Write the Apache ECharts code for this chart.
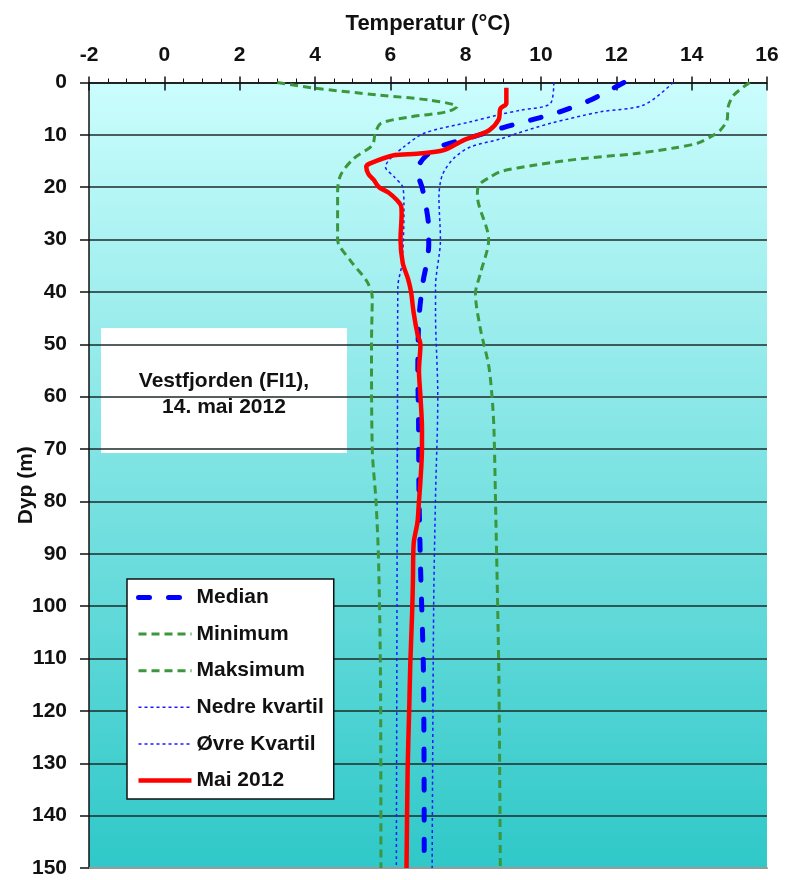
<!DOCTYPE html>
<html>
<head>
<meta charset="utf-8">
<script src="https://cdn.jsdelivr.net/npm/echarts@6/dist/echarts.min.js"></script>
<style>
  html, body { margin: 0; padding: 0; background: #ffffff; }
  #chart { width: 787px; height: 880px; }
</style>
</head>
<body>
<div id="chart"></div>
<script>
// Temperature profiles, Vestfjorden (Fl1): depth (m) and temperature (°C)
const xTicks = [-2, 0, 2, 4, 6, 8, 10, 12, 14, 16];
const yTicks = [0, 10, 20, 30, 40, 50, 60, 70, 80, 90, 100, 110, 120, 130, 140, 150];

const medianDepth = [0, 3.4, 5.6, 7.2, 8.6, 10.7, 12.2, 14, 15.5, 17.2, 20, 22.5, 28, 31, 35, 38, 45, 55, 65, 78, 92, 113, 150];
const medianTemp  = [12.2, 11.3, 10.5, 9.72, 9.0, 8.04, 7.33, 6.95, 6.78, 6.73, 6.84, 6.92, 7.02, 7.02, 6.95, 6.87, 6.76, 6.73, 6.75, 6.76, 6.8, 6.88, 6.9];

const minDepth = [0, 1.1, 2.4, 3.4, 4.6, 5.6, 6.6, 7.8, 9.7, 12, 14.5, 17.7, 21, 30, 34, 38, 41, 50, 70, 80, 92, 115, 150];
const minTemp  = [3.0, 4.0, 5.7, 7.07, 7.77, 7.5, 6.5, 5.75, 5.6, 5.52, 5.03, 4.68, 4.6, 4.6, 4.94, 5.38, 5.52, 5.5, 5.52, 5.62, 5.69, 5.74, 5.75];

const maxDepth = [0, 2.4, 4.6, 7.2, 9.1, 10, 11.6, 12.5, 13.6, 14.5, 15.8, 17, 18, 19.6, 21.5, 30, 36.5, 40.3, 47, 54, 60, 66, 79, 113, 150];
const maxTemp  = [15.54, 15.12, 14.97, 14.94, 14.76, 14.59, 14.15, 13.53, 12.47, 11.14, 9.81, 8.93, 8.66, 8.35, 8.31, 8.61, 8.39, 8.26, 8.39, 8.61, 8.7, 8.75, 8.79, 8.88, 8.92];

const lowerQDepth = [0, 4, 5.3, 6.1, 7.5, 9.7, 12.3, 14.5, 16.1, 18, 20, 23, 25, 34.5, 39, 60, 150];
const lowerQTemp  = [10.34, 10.25, 9.45, 8.92, 8.13, 6.89, 6.36, 6.0, 5.87, 6.1, 6.33, 6.36, 6.36, 6.31, 6.2, 6.19, 6.16];

const upperQDepth = [0, 4.3, 5.6, 7.8, 9.7, 10.8, 12.3, 14.5, 17.7, 22, 30, 39, 44, 60, 79, 100, 150];
const upperQTemp  = [13.51, 12.73, 11.58, 10.25, 9.37, 8.92, 8.13, 7.68, 7.38, 7.29, 7.33, 7.2, 7.2, 7.26, 7.2, 7.15, 7.11];

const may2012Depth = [1, 4, 5, 7, 9.1, 10.1, 11, 12.9, 13.6, 13.9, 15.5, 16.1, 17.5, 18.6, 20, 21, 22.5, 23.7, 25, 30, 34.5, 37.5, 40, 44, 48, 50, 55, 60, 66, 70, 76, 80, 84, 88, 95, 101, 111, 120, 131, 150];
const may2012Temp  = [9.08, 9.08, 8.92, 8.88, 8.63, 8.31, 7.95, 7.42, 6.71, 6.09, 5.45, 5.36, 5.42, 5.56, 5.7, 5.95, 6.18, 6.29, 6.3, 6.27, 6.33, 6.47, 6.55, 6.62, 6.72, 6.8, 6.76, 6.8, 6.84, 6.84, 6.8, 6.76, 6.72, 6.62, 6.6, 6.58, 6.53, 6.5, 6.46, 6.43];

const seriesNames = ['Median', 'Minimum', 'Maksimum', 'Nedre kvartil', 'Øvre Kvartil', 'Mai 2012'];
const stationText = ['Vestfjorden (FI1),', '14. mai 2012'];

function pairs(temps, depths) {
  return temps.map((t, i) => [t, depths[i]]);
}

const FONT = "'Liberation Sans', Arial, Helvetica, sans-serif";
const chart = echarts.init(document.getElementById('chart'), null, { renderer: 'canvas' });

const plotLeft = 89, plotRight = 767, plotTop = 82.5, plotBottom = 868;

const lineSeries = (name, data, style) => ({
  name: name,
  type: 'line',
  xAxisIndex: 0,
  yAxisIndex: 0,
  data: data,
  symbol: 'none',
  smooth: 0.3,
  lineStyle: style,
  itemStyle: { color: style.color },
  animation: false
});

chart.setOption({
  animation: false,
  backgroundColor: '#ffffff',
  textStyle: { fontFamily: FONT },
  grid: {
    left: plotLeft,
    right: 787 - plotRight,
    top: plotTop,
    bottom: 880 - plotBottom,
    containLabel: false,
    outerBoundsMode: 'none',
    show: true,
    borderWidth: 0,
    backgroundColor: {
      type: 'linear', x: 0, y: 0, x2: 0, y2: 1,
      colorStops: [
        { offset: 0, color: '#cbfdfd' },
        { offset: 1, color: '#2fc8c8' }
      ]
    }
  },
  xAxis: [
    {
      type: 'value',
      position: 'top',
      min: xTicks[0],
      max: xTicks[xTicks.length - 1],
      interval: 2,
      name: 'Temperatur (°C)',
      nameLocation: 'middle',
      nameGap: 48,
      nameMoveOverlap: false,
      nameTextStyle: { fontFamily: FONT, fontWeight: 'bold', fontSize: 22, color: '#111' },
      axisLine: { show: true, onZero: false, lineStyle: { color: '#111', width: 1.5 } },
      axisTick: { show: true, inside: false, length: 6, lineStyle: { color: '#111', width: 1.5 } },
      minorTick: { show: true, splitNumber: 4, length: 4, lineStyle: { color: '#111', width: 1 } },
      axisLabel: { fontFamily: FONT, fontWeight: 'bold', fontSize: 21, color: '#111', margin: 17 },
      splitLine: { show: false }
    },
    {
      type: 'value',
      position: 'top',
      min: xTicks[0],
      max: xTicks[xTicks.length - 1],
      interval: 2,
      axisLine: { show: false },
      axisTick: { show: true, inside: true, length: 8, lineStyle: { color: '#111', width: 1.5 } },
      axisLabel: { show: false },
      splitLine: { show: false }
    },
    {
      type: 'value',
      position: 'bottom',
      min: xTicks[0],
      max: xTicks[xTicks.length - 1],
      axisLine: { show: true, onZero: false, lineStyle: { color: '#9a9a9a', width: 2 } },
      axisTick: { show: false },
      axisLabel: { show: false },
      splitLine: { show: false }
    }
  ],
  yAxis: {
    type: 'value',
    inverse: true,
    min: yTicks[0],
    max: yTicks[yTicks.length - 1],
    interval: 10,
    name: 'Dyp (m)',
    nameLocation: 'middle',
    nameGap: 52,
    nameRotate: 90,
    nameMoveOverlap: false,
    nameTextStyle: { fontFamily: FONT, fontWeight: 'bold', fontSize: 21, color: '#111', padding: [0, 20, 0, 0] },
    axisLine: { show: true, onZero: false, lineStyle: { color: '#111', width: 1.5 } },
    axisTick: { show: true, inside: false, length: 9, lineStyle: { color: '#111', width: 1.5 } },
    axisLabel: { fontFamily: FONT, fontWeight: 'bold', fontSize: 21, color: '#111', margin: 22 },
    splitLine: { show: true, lineStyle: { color: '#1e2a2a', width: 1.6 } }
  },
  legend: {
    show: true,
    orient: 'vertical',
    left: 127,
    top: 579,
    data: seriesNames,
    itemWidth: 53,
    itemHeight: 14,
    itemGap: 15.6,
    padding: [8, 10, 8, 9],
    backgroundColor: '#ffffff',
    borderColor: '#111',
    borderWidth: 1.5,
    borderRadius: 0,
    selectedMode: false,
    itemStyle: { opacity: 0 },
    lineStyle: { width: 'inherit', type: 'inherit', color: 'inherit' },
    textStyle: { fontFamily: FONT, fontWeight: 'bold', fontSize: 21, color: '#111' }
  },
  graphic: [
    {
      type: 'group',
      z: 100,
      children: [
        {
          type: 'rect',
          shape: { x: 101, y: 328, width: 246, height: 125 },
          style: { fill: '#ffffff' }
        },
        {
          type: 'text',
          x: 224, y: 381,
          style: {
            text: stationText[0], fontFamily: FONT, fontWeight: 'bold', fontSize: 21,
            fill: '#111', textAlign: 'center', textVerticalAlign: 'middle'
          }
        },
        {
          type: 'text',
          x: 224, y: 407,
          style: {
            text: stationText[1], fontFamily: FONT, fontWeight: 'bold', fontSize: 21,
            fill: '#111', textAlign: 'center', textVerticalAlign: 'middle'
          }
        }
      ]
    }
  ],
  series: [
    lineSeries(seriesNames[3], pairs(lowerQTemp, lowerQDepth), { color: '#1a1aff', width: 1.5, type: [3, 3] }),
    lineSeries(seriesNames[4], pairs(upperQTemp, upperQDepth), { color: '#1a1aff', width: 1.5, type: [3, 3] }),
    lineSeries(seriesNames[1], pairs(minTemp, minDepth), { color: '#3c963c', width: 3, type: [8, 5] }),
    lineSeries(seriesNames[2], pairs(maxTemp, maxDepth), { color: '#3c963c', width: 3, type: [8, 5] }),
    lineSeries(seriesNames[0], pairs(medianTemp, medianDepth), { color: '#0000ff', width: 5, type: [11, 19], cap: 'round' }),
    lineSeries(seriesNames[5], pairs(may2012Temp, may2012Depth), { color: '#ff0000', width: 4.5 })
  ]
});
</script>
</body>
</html>
